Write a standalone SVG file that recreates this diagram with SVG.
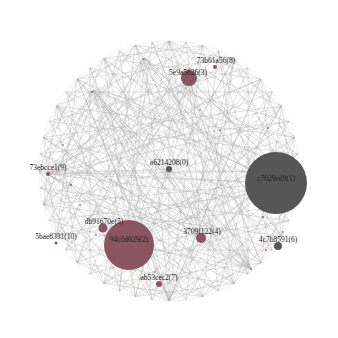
<svg xmlns="http://www.w3.org/2000/svg" width="338" height="338" viewBox="0 0 338 338">
<style>
.e{fill:none;stroke:#acacac;stroke-width:0.5;stroke-opacity:0.75}
.m{fill:#8a5460}
.d{fill:#565656}
.t{font-family:"Liberation Serif","DejaVu Serif",serif;font-size:7.5px;fill:#222222;text-anchor:middle}
.s{fill:#8a4a58;opacity:0.7}
</style>
<rect width="338" height="338" fill="#ffffff"/>
<g id="edges">
<circle cx="169" cy="171" r="130" fill="none" stroke="#b59aa0" stroke-width="0.6" stroke-dasharray="1 2" opacity="0.7"/>
<path class="e" d="M299,171L202.6,296.6M294.6,204.6L169,301M281.6,236L135.4,296.6M260.9,262.9L104,283.6M234,283.6L77.1,262.9M202.6,296.6L56.4,236M169,301L43.4,204.6M135.4,296.6L39,171M104,283.6L43.4,137.4M77.1,262.9L56.4,106M56.4,236L77.1,79.1M43.4,204.6L104,58.4M39,171L135.4,45.4M43.4,137.4L169,41M56.4,106L202.6,45.4M77.1,79.1L234,58.4M104,58.4L260.9,79.1M135.4,45.4L281.6,106M169,41L294.6,137.4M202.6,45.4L299,171M234,58.4L294.6,204.6M260.9,79.1L281.6,236M281.6,106L260.9,262.9M294.6,137.4L234,283.6"/>
<path class="e" d="M299,171L77.1,262.9M294.6,204.6L56.4,236M281.6,236L43.4,204.6M260.9,262.9L39,171M234,283.6L43.4,137.4M202.6,296.6L56.4,106M169,301L77.1,79.1M135.4,296.6L104,58.4M104,283.6L135.4,45.4M77.1,262.9L169,41M56.4,236L202.6,45.4M43.4,204.6L234,58.4M39,171L260.9,79.1M43.4,137.4L281.6,106M56.4,106L294.6,137.4M77.1,79.1L299,171M104,58.4L294.6,204.6M135.4,45.4L281.6,236M169,41L260.9,262.9M202.6,45.4L234,283.6M234,58.4L202.6,296.6M260.9,79.1L169,301M281.6,106L135.4,296.6M294.6,137.4L104,283.6"/>
<path class="e" d="M299,171L39,171M294.6,204.6L43.4,137.4M281.6,236L56.4,106M260.9,262.9L77.1,79.1M234,283.6L104,58.4M202.6,296.6L135.4,45.4M169,301L169,41M135.4,296.6L202.6,45.4M104,283.6L234,58.4M77.1,262.9L260.9,79.1M56.4,236L281.6,106M43.4,204.6L294.6,137.4"/>
<path class="e" d="M299,171L260.9,262.9M294.6,204.6L234,283.6M281.6,236L202.6,296.6M260.9,262.9L169,301M234,283.6L135.4,296.6M202.6,296.6L104,283.6M169,301L77.1,262.9M135.4,296.6L56.4,236M104,283.6L43.4,204.6M77.1,262.9L39,171M56.4,236L43.4,137.4M43.4,204.6L56.4,106M39,171L77.1,79.1M43.4,137.4L104,58.4M56.4,106L135.4,45.4M77.1,79.1L169,41M104,58.4L202.6,45.4M135.4,45.4L234,58.4M169,41L260.9,79.1M202.6,45.4L281.6,106M234,58.4L294.6,137.4M260.9,79.1L299,171M281.6,106L294.6,204.6M294.6,137.4L281.6,236"/>
<path class="e" d="M297.9,188L119.3,291.1M289.1,220.7L89.9,274.1M272.1,250.1L65.9,250.1M248.1,274.1L48.9,220.7M218.7,291.1L40.1,188M186,299.9L40.1,154M152,299.9L48.9,121.3M119.3,291.1L65.9,91.9M89.9,274.1L89.9,67.9M65.9,250.1L119.3,50.9M48.9,220.7L152,42.1M40.1,188L186,42.1M40.1,154L218.7,50.9M48.9,121.3L248.1,67.9M65.9,91.9L272.1,91.9M89.9,67.9L289.1,121.3M119.3,50.9L297.9,154M152,42.1L297.9,188M186,42.1L289.1,220.7M218.7,50.9L272.1,250.1M248.1,67.9L248.1,274.1M272.1,91.9L218.7,291.1M289.1,121.3L186,299.9M297.9,154L152,299.9"/>
<path class="e" d="M297.9,188L48.9,220.7M289.1,220.7L40.1,188M272.1,250.1L40.1,154M248.1,274.1L48.9,121.3M218.7,291.1L65.9,91.9M186,299.9L89.9,67.9M152,299.9L119.3,50.9M119.3,291.1L152,42.1M89.9,274.1L186,42.1M65.9,250.1L218.7,50.9M48.9,220.7L248.1,67.9M40.1,188L272.1,91.9M40.1,154L289.1,121.3M48.9,121.3L297.9,154M65.9,91.9L297.9,188M89.9,67.9L289.1,220.7M119.3,50.9L272.1,250.1M152,42.1L248.1,274.1M186,42.1L218.7,291.1M218.7,50.9L186,299.9M248.1,67.9L152,299.9M272.1,91.9L119.3,291.1M289.1,121.3L89.9,274.1M297.9,154L65.9,250.1"/>
<path class="e" d="M93,90L299,171M93,90L281.6,236M93,90L260.9,262.9M93,90L234,283.6M93,90L202.6,296.6M93,90L169,301M93,90L135.4,296.6M93,90L39,171M93,90L56.4,236M93,90L294.6,137.4M93,90L276,183M93,90L169,169M93,90L201,237M93,90L43.4,204.6M93,90L152,299.9M93,90L248.1,274.1"/>
<path class="e" d="M48,174L299,171M48,174L281.6,106M48,174L260.9,79.1M48,174L234,58.4M48,174L202.6,45.4M48,174L169,41M48,174L234,283.6M48,174L202.6,296.6M48,174L169,169M48,174L276,183M48,174L189,79M48,174L294.6,204.6M48,174L289.1,121.3M48,174L218.7,291.1M48,174L135.4,45.4"/>
<path class="e" d="M250,268L39,171M250,268L43.4,137.4M250,268L56.4,106M250,268L77.1,79.1M250,268L104,58.4M250,268L135.4,45.4M250,268L169,41M250,268L43.4,204.6M250,268L189,79M250,268L129,245M250,268L169,169M250,268L93,90M250,268L152,42.1M250,268L65.9,91.9M250,268L40.1,154M250,268L218.7,50.9"/>
<path class="e" d="M169,300L56.4,106M169,300L77.1,79.1M169,300L104,58.4M169,300L202.6,45.4M169,300L234,58.4M169,300L260.9,79.1M169,300L281.6,106M169,300L294.6,137.4M169,300L39,171M169,300L145,58M169,300L89.9,67.9M169,300L272.1,91.9"/>
<path class="e" d="M189,79L39,171M189,79L43.4,204.6M189,79L56.4,236M189,79L77.1,262.9M189,79L104,283.6M189,79L135.4,296.6M189,79L260.9,262.9M189,79L281.6,236M189,79L299,171M189,79L129,245M189,79L201,237M189,79L65.9,250.1M189,79L297.9,188"/>
<path class="e" d="M145,58L299,171M145,58L294.6,204.6M145,58L281.6,236M145,58L234,283.6M145,58L77.1,262.9M145,58L56.4,236M145,58L43.4,204.6M145,58L276,183M145,58L272.1,250.1M145,58L119.3,291.1"/>
<path class="e" d="M201,237L43.4,137.4M201,237L56.4,106M201,237L77.1,79.1M201,237L104,58.4M201,237L135.4,45.4M201,237L169,41M201,237L234,58.4M201,237L281.6,106M201,237L297.9,154M201,237L40.1,188"/>
<path class="e" d="M276,183L56.4,106M276,183L77.1,79.1M276,183L104,58.4M276,183L39,171M276,183L43.4,204.6M276,183L56.4,236M276,183L104,283.6M276,183L135.4,296.6M276,183L169,41M276,183L119.3,50.9"/>
<path class="e" d="M129,245L299,171M129,245L281.6,106M129,245L260.9,79.1M129,245L234,58.4M129,245L169,41M129,245L56.4,106M129,245L294.6,137.4M129,245L289.1,220.7"/>
</g>
<g id="dots">
<circle class="s" cx="268" cy="128" r="1"/>
<circle class="s" cx="71" cy="185" r="1.2"/>
<circle class="s" cx="80" cy="205" r="0.9"/>
<circle class="s" cx="263" cy="217" r="1.2"/>
<circle class="s" cx="266" cy="250" r="1"/>
<circle class="s" cx="251" cy="269" r="1.3"/>
<circle class="s" cx="155" cy="272" r="0.9"/>
<circle class="s" cx="63" cy="145" r="0.9"/>
<circle class="s" cx="143" cy="59" r="1.1"/>
<circle class="s" cx="92" cy="92" r="0.9"/>
<circle class="s" cx="110" cy="180" r="0.8"/>
<circle class="s" cx="220" cy="130" r="0.8"/>
<circle class="s" cx="96" cy="235" r="0.9"/>
<circle class="s" cx="283" cy="232" r="0.9"/>
<circle class="s" cx="200" cy="110" r="0.8"/>
<circle class="s" cx="60" cy="120" r="0.8"/>
</g>
<g id="n1"><circle class="d" cx="276" cy="183" r="31"/><text class="t" x="276" y="181">c7029ed9(1)</text></g>
<g id="n2"><circle class="m" cx="129" cy="245" r="25"/><text class="t" x="129" y="242">94c0d029(2)</text></g>
<g id="n3"><circle class="m" cx="189" cy="78" r="8"/><text class="t" x="188" y="75">5e9a5826(3)</text></g>
<g id="n8"><circle class="m" cx="215" cy="67" r="2"/><text class="t" x="216" y="63">73b61a56(8)</text></g>
<g id="n0"><circle class="d" cx="169" cy="169" r="3"/><text class="t" x="169" y="165">a6214208(0)</text></g>
<g id="n9"><circle class="m" cx="48" cy="174" r="2"/><text class="t" x="48" y="170">73ebcce1(9)</text></g>
<g id="n5"><circle class="m" cx="103" cy="228" r="4.5"/><text class="t" x="104" y="224">db91670e(5)</text></g>
<g id="n10"><circle class="m" cx="56" cy="243" r="1.5"/><text class="t" x="56" y="239">5bae8331(10)</text></g>
<g id="n4"><circle class="m" cx="201" cy="238" r="5"/><text class="t" x="202" y="234">3709f122(4)</text></g>
<g id="n6"><circle class="d" cx="278" cy="246" r="4"/><text class="t" x="278" y="242">4c7b8591(6)</text></g>
<g id="n7"><circle class="m" cx="159" cy="284" r="3"/><text class="t" x="159" y="280">ab53cec2(7)</text></g>
</svg>
